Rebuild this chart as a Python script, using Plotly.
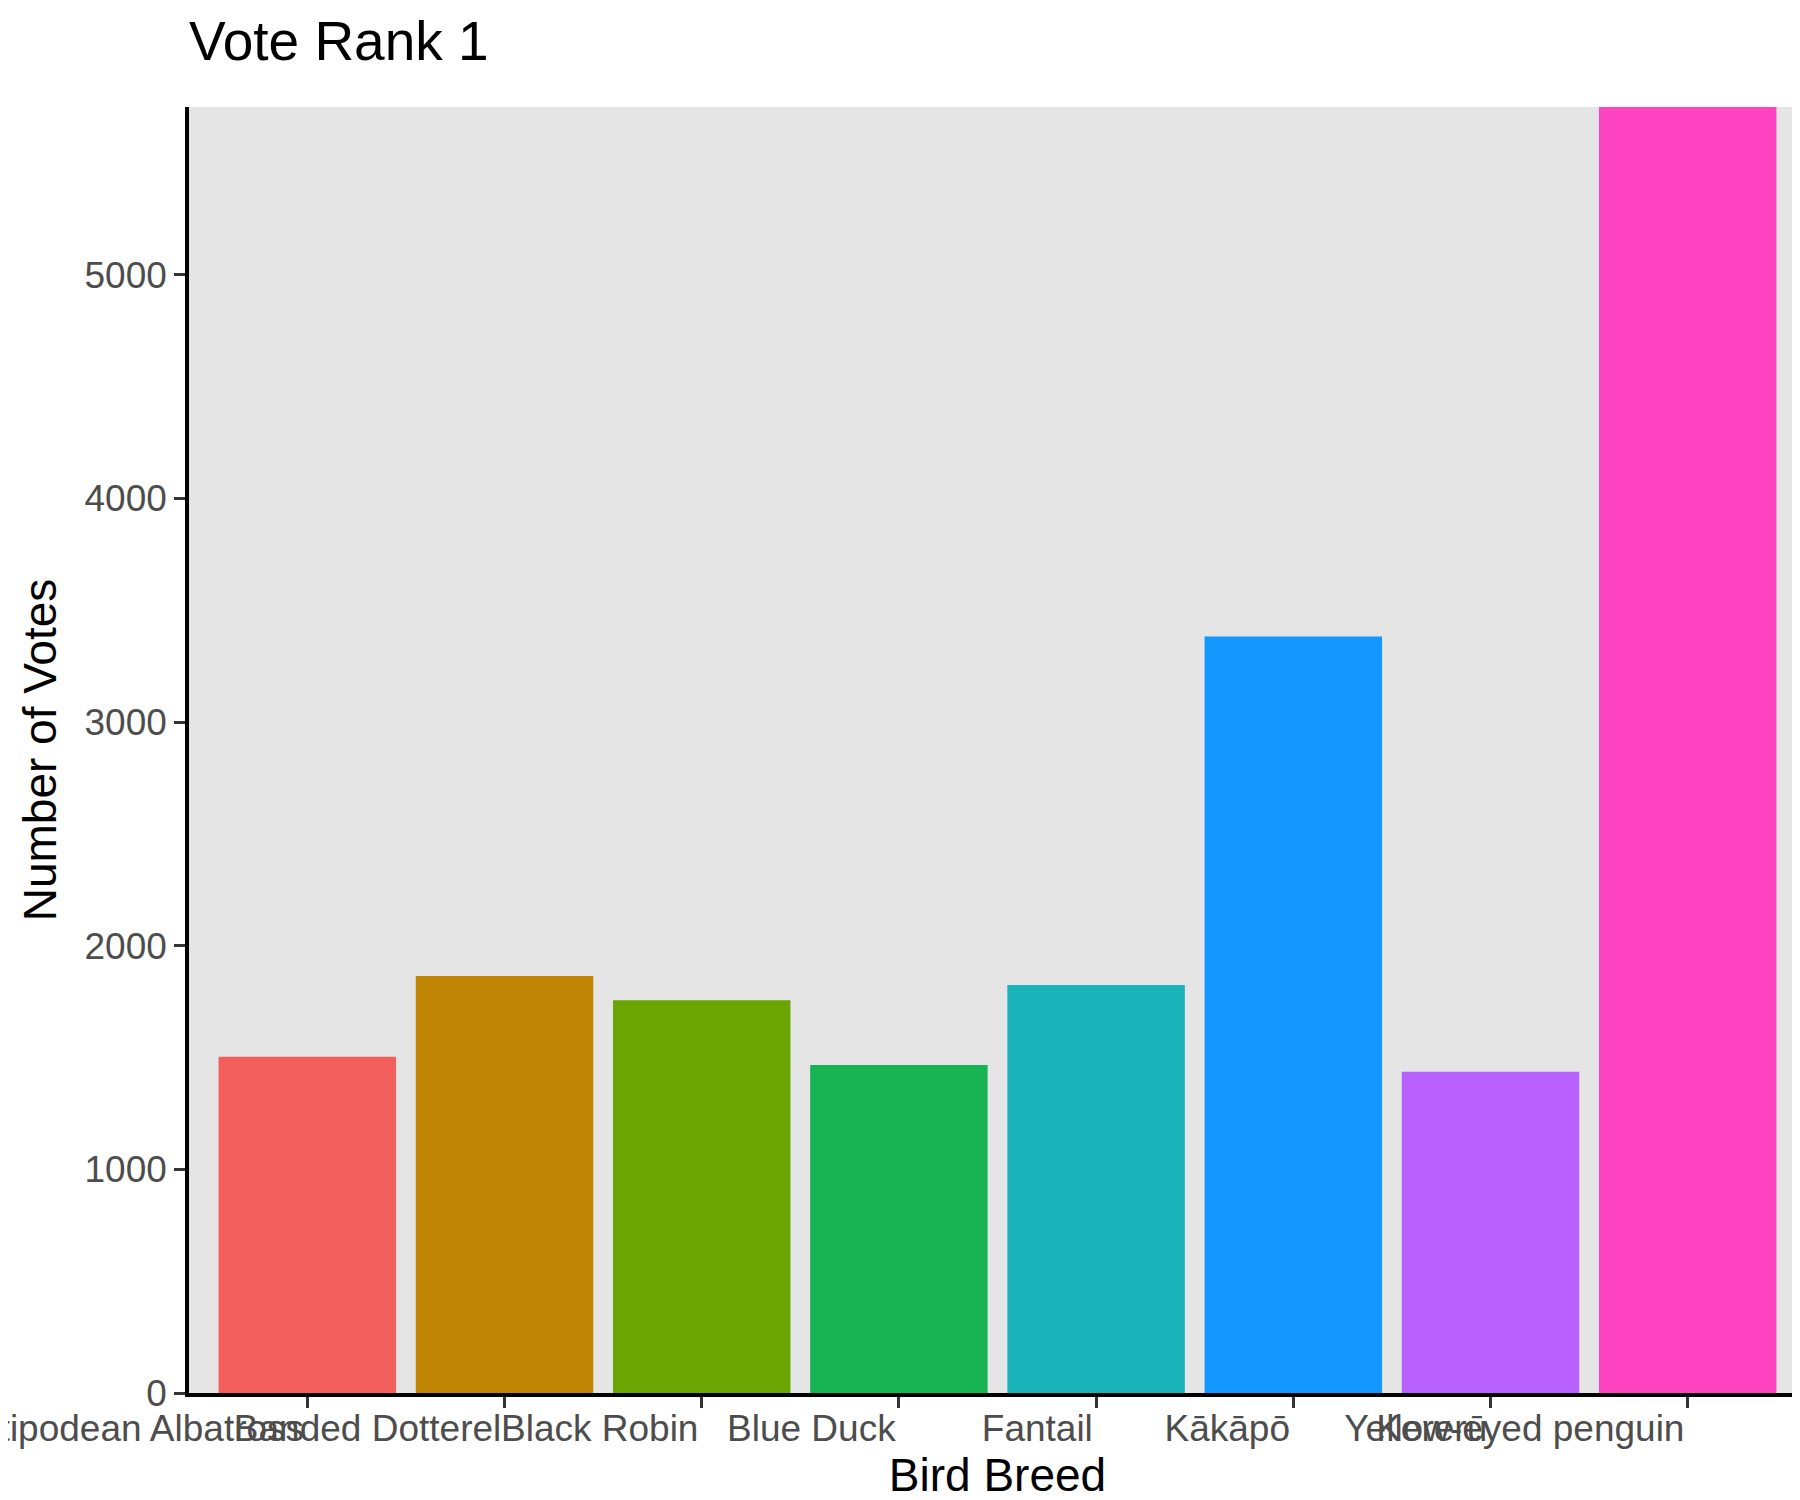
import plotly.graph_objects as go

# --- data ---
birds = ["Antipodean Albatross", "Banded Dotterel", "Black Robin", "Blue Duck",
         "Fantail", "Kākāpō", "Kererū", "Yellow-eyed penguin"]
votes = [1503, 1865, 1756, 1467, 1824, 3382, 1436, 5750]
bar_colors = ["#F35F5C", "#C08404", "#6AA504", "#18B454",
              "#1AB3B9", "#1498FF", "#B961FF", "#FF44C2"]
y_ticks = [0, 1000, 2000, 3000, 4000, 5000]

FONT = "Liberation Sans, Arial, sans-serif"

fig = go.Figure(
    go.Bar(
        x=birds,
        y=votes,
        marker=dict(color=bar_colors, line=dict(width=0)),
        width=0.9,
        showlegend=False,
    )
)

fig.update_layout(
    width=1800,
    height=1500,
    margin=dict(l=181, r=2, t=99, b=115),
    paper_bgcolor="white",
    plot_bgcolor="#E5E5E5",
    font=dict(family=FONT),
    title=dict(
        text="Vote Rank 1",
        font=dict(size=55, color="black", family=FONT),
        x=0, xref="paper", xanchor="left",
        y=0.991, yref="container", yanchor="top",
    ),
    bargap=0.1,
)

fig.update_xaxes(
    range=[-0.6, 7.6],
    showgrid=False,
    showline=True, linecolor="black", linewidth=3.5,
    ticks="outside", ticklen=11, tickwidth=3, tickcolor="#333333",
    tickfont=dict(size=37, color="#4D4D4D", family=FONT),
    ticklabelposition="outside left",
    tickangle=0,
    automargin=False,
    title=dict(text="Bird Breed", font=dict(size=46, color="black", family=FONT), standoff=10),
)

fig.update_yaxes(
    range=[0, max(votes)],
    tickvals=y_ticks,
    showgrid=False, zeroline=False,
    showline=True, linecolor="black", linewidth=3.5,
    ticks="outside", ticklen=11, tickwidth=3, tickcolor="#333333",
    tickfont=dict(size=37, color="#4D4D4D", family=FONT),
    automargin=False,
    title=dict(text="Number of Votes", font=dict(size=46, color="black", family=FONT), standoff=14),
)

fig.write_html("out.html")
